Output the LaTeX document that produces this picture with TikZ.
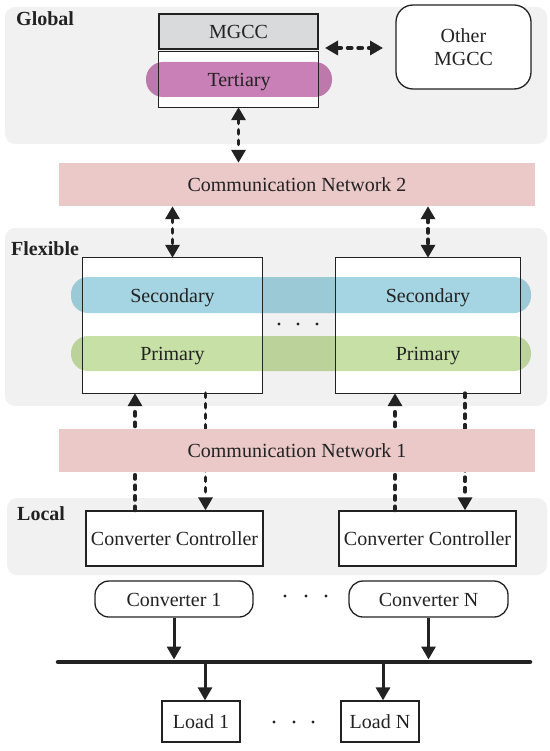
\documentclass[tikz,border=0pt]{standalone}
\usepackage{fontspec}
\setmainfont{Liberation Serif}
\usetikzlibrary{arrows.meta,calc}
\definecolor{panelgray}{HTML}{F1F1F1}
\definecolor{mgccgray}{HTML}{D9DADC}
\definecolor{tertcol}{HTML}{C880B6}
\definecolor{netcol}{HTML}{EBC9C9}
\definecolor{seccol}{HTML}{A5D5E2}
\definecolor{primcol}{HTML}{C6E0A5}
\definecolor{linecol}{HTML}{222222}
\tikzset{
  txt/.style={font=\fontsize{20}{23}\selectfont, text=linecol, inner sep=0pt, text height=16pt, text depth=2pt},
  lbl/.style={font=\fontsize{20}{23}\selectfont\bfseries, text=linecol, inner sep=0pt, anchor=base west},
  panel/.style={fill=panelgray, draw=none, rounded corners=10pt},
  boxfill/.style={fill=white, draw=none, inner sep=0pt},
  boxline/.style={draw=linecol, line width=1.3pt},
  pill/.style={draw=none, inner sep=0pt, rounded corners=17pt},
  net/.style={fill=netcol, draw=none, inner sep=0pt, font=\fontsize{20}{23}\selectfont, text=linecol, text height=16pt, text depth=2pt},
  dasharr/.style={line width=3.8pt, draw=linecol, line cap=round, dash pattern=on 4pt off 6.5pt},
  tipd/.style={-{Triangle[length=13pt,width=14pt]}},
  tipdd/.style={{Triangle[length=13pt,width=14pt]}-{Triangle[length=13pt,width=14pt]}},
  solarr/.style={line width=3pt, draw=linecol, -{Triangle[length=13pt,width=14pt]}},
  dotc/.style={fill=linecol},
}
\begin{document}
\begin{tikzpicture}[x=1pt,y=-1pt]
\useasboundingbox (0,0) rectangle (549,751);
% panels
\fill[panel] (5,7) rectangle (547,144);
\fill[panel] (5,228) rectangle (547,406);
\fill[panel] (7,498) rectangle (547,575);
\node[lbl] (glab) at (16,26) {Global};
\node[lbl] (flab) at (11,255) {Flexible};
\node[lbl] (llab) at (17,520) {Local};

% global
\node[txt, fill=mgccgray, minimum width=159pt, minimum height=35pt, draw=linecol, line width=1.3pt] (mgcc) at (238.5,31.5) {MGCC};
\node[boxfill, minimum width=159pt, minimum height=55pt] (tbox) at (238.5,79.5) {};
\node[font=\fontsize{20}{23}\selectfont, text=linecol, inner sep=0pt, draw=linecol, line width=1.3pt, fill=white, rounded corners=17pt, minimum width=135pt, minimum height=84pt, align=center] (other) at (463.5,47) {Other\\[0pt]MGCC};

% flexible boxes
\node[boxfill, minimum width=179pt, minimum height=135pt] (fl1) at (172.5,325.5) {};
\node[boxfill, minimum width=184pt, minimum height=135pt] (fl2) at (428,325.5) {};

% pills
\begin{scope}[blend mode=multiply]
\node[pill, fill=tertcol, minimum width=186pt, minimum height=35pt] (tpill) at (239,79.5) {};
\node[pill, fill=seccol, minimum width=460pt, minimum height=36pt] (spill) at (301,295) {};
\node[pill, fill=primcol, minimum width=460pt, minimum height=35pt] (ppill) at (301,353.5) {};
\end{scope}

% box outlines
\draw[boxline] (tbox.north west) rectangle (tbox.south east);
\draw[boxline] (fl1.north west) rectangle (fl1.south east);
\draw[boxline] (fl2.north west) rectangle (fl2.south east);

% texts
\node[txt] (ttxt) at (tpill.center) {Tertiary};
\node[txt] (sec1) at (172.5,295) {Secondary};
\node[txt] (sec2) at (428,295) {Secondary};
\node[txt] (pri1) at (172.5,353.5) {Primary};
\node[txt] (pri2) at (428,353.5) {Primary};
\fill[dotc] (279,324) circle (1.6pt) (298,324) circle (1.6pt) (317,324) circle (1.6pt);

% local
\node[txt, draw=linecol, line width=1.3pt, fill=white, minimum width=177pt, minimum height=55pt] (cc1) at (174.5,538.5) {Converter Controller};
\node[txt, draw=linecol, line width=1.3pt, fill=white, minimum width=177pt, minimum height=55pt] (cc2) at (427.5,538.5) {Converter Controller};

% network 2
\node[net, minimum width=476pt, minimum height=43pt] (cn2) at (297,184.5) {Communication Network 2};

% arrows global
\coordinate (ga) at (325,48);
\coordinate (gb) at (383,48);
\draw[dasharr, tipdd] (ga) -- (gb);
\draw[dasharr, tipdd] (tbox.south) -- (tbox.south |- cn2.north);
\draw[dasharr, tipdd] (fl1.north |- cn2.south) -- (fl1.north);
\draw[dasharr, tipdd] (fl2.north |- cn2.south) -- (fl2.north);

% arrows flexible <-> local (through network 1)
\coordinate (u1) at (135,0);
\coordinate (d1) at (205.5,0);
\coordinate (u2) at (395,0);
\coordinate (d2) at (465,0);
\draw[dasharr, tipd] (u1 |- cc1.north) -- (u1 |- fl1.south);
\draw[dasharr, tipd] (d1 |- fl1.south) -- (d1 |- cc1.north);
\draw[dasharr, tipd] (u2 |- cc2.north) -- (u2 |- fl2.south);
\draw[dasharr, tipd] (d2 |- fl2.south) -- (d2 |- cc2.north);

% network 1 on top
\node[net, minimum width=476pt, minimum height=43pt] (cn1) at (297,450.5) {Communication Network 1};

% converters
\node[txt, draw=linecol, line width=1.3pt, fill=white, rounded corners=14pt, minimum width=158pt, minimum height=36pt] (conv1) at (174,599) {Converter 1};
\node[txt, draw=linecol, line width=1.3pt, fill=white, rounded corners=14pt, minimum width=159pt, minimum height=36pt] (convN) at (428.5,599) {Converter N};
\fill[dotc] (285,596) circle (1.6pt) (306,596) circle (1.6pt) (326,596) circle (1.6pt);

% bus
\coordinate (busL) at (58,662);
\coordinate (busR) at (530,662);
\draw[line width=4.5pt, draw=linecol, line cap=round] (busL) -- (busR);

% loads
\node[txt, draw=linecol, line width=1.3pt, fill=white, minimum width=78pt, minimum height=41pt] (load1) at (201,721.5) {Load 1};
\node[txt, draw=linecol, line width=1.3pt, fill=white, minimum width=78pt, minimum height=41pt] (loadN) at (380,721.5) {Load N};
\fill[dotc] (274,722) circle (1.6pt) (294,722) circle (1.6pt) (313,722) circle (1.6pt);

\draw[solarr] (conv1.south) -- ([yshift=2.5pt]conv1.south |- busL);
\draw[solarr] (convN.south) -- ([yshift=2.5pt]convN.south |- busL);
\draw[solarr] ([xshift=4pt]load1.north |- busL) -- ([xshift=4pt]load1.north);
\draw[solarr] ([xshift=3pt]loadN.north |- busL) -- ([xshift=3pt]loadN.north);
\end{tikzpicture}
\end{document}
